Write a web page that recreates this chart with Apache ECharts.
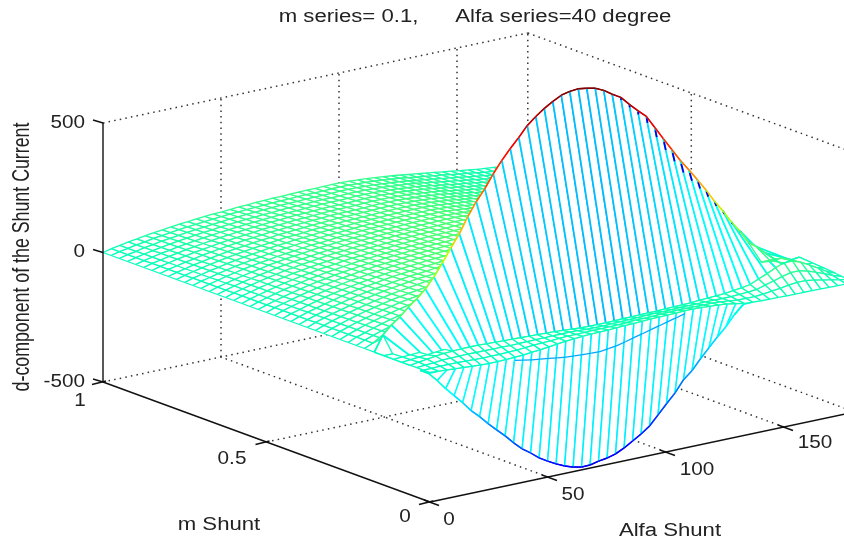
<!DOCTYPE html>
<html><head><meta charset="utf-8">
<style>html,body{margin:0;padding:0;background:#fff}#c{width:844px;height:541px}</style>
<script src="https://cdn.jsdelivr.net/npm/echarts@6/dist/echarts.min.js"></script>
</head><body><div id="c"></div>
<script>
const titleText = 'm series= 0.1,      Alfa series=40 degree';
const zTicks = [-500, 0, 500];
const mTicks = [0, 0.5, 1];
const alphaTicks = [0, 50, 100, 150];
const alphaStep = 3.6;

// Green sheet: one row per m, values from alpha = 0 upward; the part hidden by the wall is left out
const sheetM = [1,.975,.95,.925,.9,.875,.85,.825,.8,.775,.75,.725,.7,.675,.65,.625,.6,.575,.55,.525,.5,.475,.45,.425,.4,.375,.35,.325,.3,.275,.25,.225,.2];
const sheetZ = [
[0,8,14,20,25,30,35,39,43,47,50,53,56,59,60,62,65,66,68,69,71,71,72,73,74,74,75,75,75,74,72,70,67,64,60,56,51,47,42,38,33,29,24,20,15,12,9,6,4,2,0],
[0,8,14,20,25,31,35,40,44,48,51,54,57,60,62,64,66,68,69,71,72,73,74,75,75,76,77,77,77,75,74,72,69,65,62,57,52,48,43,39,34,29,25,20,15,12,9,6,4],
[0,8,14,21,26,32,36,41,45,49,52,55,58,62,63,66,68,70,71,73,74,75,76,77,77,78,79,79,79,77,76,73,70,67,63,58,54,49,44,40,35,30,25,21,16,13,9,6],
[0,8,15,21,27,32,37,42,46,50,53,57,60,63,65,67,70,71,73,75,76,77,78,79,79,80,81,81,81,79,78,75,72,69,65,60,55,50,45,41,36,31,26,21,16,13],
[0,8,15,22,27,33,38,43,47,51,55,58,61,65,66,69,71,73,75,76,78,79,80,81,81,82,83,83,83,81,80,77,74,71,66,61,56,51,46,42,37,32,27,22,17],
[0,9,15,22,28,34,39,44,48,53,56,60,63,66,68,71,73,75,77,78,80,81,82,82,83,84,85,85,85,83,82,79,76,72,68,63,58,53,48,43,37,32,27],
[0,9,16,23,29,35,40,45,50,54,57,61,64,68,70,72,75,77,78,80,82,83,84,84,85,86,87,87,87,85,84,81,77,74,70,64,59,54,49,44,38,33],
[0,9,16,23,29,36,41,46,51,55,59,62,66,69,71,74,77,78,80,82,84,85,85,86,87,88,89,89,89,87,85,83,79,76,71,66,61,55,50,45],
[0,9,16,24,30,36,42,47,52,56,60,64,67,71,73,76,78,80,82,84,86,86,87,88,89,90,91,91,91,89,87,85,81,77,73,67,62,56,51],
[0,9,17,24,31,37,43,48,53,58,61,65,69,73,74,77,80,82,84,86,87,88,89,90,91,92,93,93,93,91,89,86,83,79,74,69,63,58],
[0,10,17,25,31,38,44,49,54,59,63,67,70,74,76,79,82,84,86,87,89,90,91,92,93,94,95,95,95,93,91,88,85,81,76,70],
[0,10,17,25,32,39,45,50,55,60,64,68,72,76,78,81,83,85,87,89,91,92,93,94,95,96,97,97,97,95,93,90,86,82,78],
[0,10,18,26,33,40,46,51,56,61,65,69,73,77,79,82,85,87,89,91,93,94,95,96,97,98,99,99,99,97,95,92,88,84,79,73],
[0,10,18,26,33,40,46,53,58,63,67,71,75,79,81,84,87,89,91,93,95,96,97,98,99,100,101,101,101,99,97,94,90,86,81],
[0,10,19,27,34,41,47,54,59,64,68,72,76,80,82,85,89,91,93,95,97,98,99,100,101,102,103,103,103,101,99,96,92],
[0,11,19,27,35,42,48,55,60,65,69,74,78,82,84,87,90,92,95,97,99,100,101,102,103,104,105,105,105,103,101,98,93],
[0,11,19,28,35,43,49,56,61,66,71,75,79,83,86,89,92,94,96,98,101,102,103,104,105,106,107,107,107,105,103,100],
[0,11,20,28,36,44,50,57,62,68,72,76,81,85,87,90,94,96,98,100,102,104,105,106,107,108,109,109,109,107],
[0,11,20,29,37,44,51,58,63,69,73,78,82,87,89,92,95,98,100,102,104,105,107,108,109,110,111,111,111],
[0,11,20,29,37,45,52,59,64,70,75,79,84,88,90,94,97,99,102,104,106,107,108,110,111,112,113],
[0,12,21,30,38,46,53,60,66,71,76,81,85,90,92,95,99,101,104,106,108,109,110,112,113,114],
[0,12,21,30,39,47,54,61,67,73,77,82,87,91,94,97,101,103,105,108,110,111,112,113,115],
[0,12,21,31,39,48,55,62,68,74,79,83,88,93,95,99,102,105,107,109,112,113,114,115],
[0,12,22,31,40,48,56,63,69,75,80,85,90,94,97,100,104,106,109,111,114,115],
[0,12,22,32,41,49,57,64,70,76,81,86,91,96,98,102,106,108,111,113,116],
[0,13,23,33,41,50,58,65,71,78,83,88,93,98,100,104,108,110,113],
[0,13,23,33,42,51,58,66,72,79,84,89,94,99,102,105,109,112],
[0,13,23,34,43,52,59,67,74,80,85,90,95,101,103,107],
[0,13,24,34,43,52,60,68,75,81,86,92,97,102],
[0,13,24,35,44,53,61,69,76,82,88,93,98],
[0,14,24,35,45,54,62,70,77,84,89],
[0,14,25,36,45,55,63,71,78],
[0,14,25,36,46,56,64]];

const peakM = 0.17;
const peakZ = [0,59,91,115,146,171,202,242,289,340,388,447,498,541,592,636,675,711,750,778,802,822,839,847,850,845,838,823,801,782,748,717,688,638,588,539,490,447,402,356,306,261,211,169,119,93,63,33,6,15,19];
const troughM = 0.03;
const troughZ = [-6,-25,-59,-97,-131,-165,-203,-233,-267,-298,-328,-362,-392,-415,-441,-460,-478,-493,-504,-511,-510,-502,-497,-488,-472,-452,-432,-408,-372,-336,-301,-257,-229,-190,-154,-119,-87,-47,-16];

const bandM = [0.06, 0.04, 0.02, 0];
const bandZ0 = [0,5,10,15,18,20,22,22,22,20,20,18,18,16,15,14,13,12,10,8,5,4,4,4,5,6,6,7,8,8,9,10,11,12,14,16,18,20,24,28,34,48,62,78,90,90,78,60,42,22,8];
const bandZ1 = [0,3,5,8,9,10,11,10,10,9,10,9,10,10,11,11,12,12,12,11,9,9,9,10,11,12,13,14,15,15,16,17,17,17,18,18,17,17,19,21,24,34,43,53,61,61,53,41,29,15,5];
const bandZ2 = [0,0,1,1,1,0,-1,-2,-2,-2,0,1,3,6,8,9,11,13,13,14,14,14,15,16,17,19,19,20,22,22,23,23,23,22,22,20,17,13,13,13,15,20,24,29,33,33,28,21,15,8,3];
const bandZ3 = [0,-2,-4,-6,-8,-10,-12,-13,-13,-12,-10,-8,-5,-2,2,6,10,13,15,17,18,19,20,22,23,25,26,27,28,29,30,30,29,27,25,22,16,10,8,6,5,5,4,4,4,3,3,2,2,1,0];

// Colour value of the long mesh lines of the upper and lower wall, per alpha column
const upperShade = [-40,-50,-60,-70,-80,-90,-100,-105,-110,-120,-125,-130,-140,-150,-160,-165,-170,-175,-180,-185,-190,-195,-200,-200,-200,-200,-195,-190,-185,-175,-170,-160,-150,-140,-130,-120,-110,-100,-95,-90,-80,-70,-60,-50,-40,-30,-20,-10,0,0,0];
const lowerShade = [-70,-80,-85,-90,-95,-100,-100,-105,-105,-110,-110,-110,-115,-115,-115,-120,-120,-120,-120,-120,-120,-120,-120,-120,-120,-120,-115,-115,-115,-110,-110,-110,-105,-105,-100,-100,-95,-90,-80];
// Dark-blue stretch at the head of the upper-wall lines (fraction of the line), from column 29
const darkHead = [.012,.015,.02,.035,.055,.07,.08,.09,.09,.08,.07,.06,.05,.04,.03,.02];

// Small extra rows: left end of the band, and right corner
const leftM = [0.14, 0.11, 0.085];
const leftZ = [[0,0],[0,2,4,6],[0,3,6,9,12,15]];
const cornerM = [0.13, 0.095];
const cornerZ = [[60,60,50,40,25,15,15],[80,85,72,55,35,18,12]];
const cornerStart = 44;

// Thin curve below the band
const arcStart = 10;
const arcZ = [-23,-29,-35,-39,-43,-48,-52,-54,-56,-57,-58,-54,-49,-41,-32,-24,-15,-7,2,10,19];
const arcShade = -230;

const OX=430, OY=502, AX=2.36, AY=0.5, MX=327, MY=120, ZS=0.259;
const proj=(a,m,z)=>[OX+AX*a-MX*m, OY-AY*a-MY*m-ZS*(z+500)];
const clamp=v=>Math.max(0,Math.min(1,v));
function jet(z){
  const t=clamp((z+667)/1517);
  const r=clamp(Math.min(4*t-1.75,-4*t+4.5)),g=clamp(Math.min(4*t-.5,-4*t+3.5)),b=clamp(Math.min(4*t+.5,-4*t+2.5));
  return 'rgb('+Math.round(r*255)+','+Math.round(g*255)+','+Math.round(b*255)+')';
}
const cells=[];
function addCells(mA,zA,startA,mB,zB,startB,shade,lw,rowLw){
  const from=Math.max(startA,startB), to=Math.min(startA+zA.length,startB+zB.length)-1;
  for(let j=from;j<to;j++){
    const a=j*alphaStep,a2=(j+1)*alphaStep;
    const za=zA[j-startA],za2=zA[j+1-startA],zb=zB[j-startB],zb2=zB[j+1-startB];
    cells.push({
      p:[proj(a,mA,za),proj(a2,mA,za2),proj(a2,mB,zb2),proj(a,mB,zb)],
      cA:jet(za),cB:jet(zb),
      c1:jet(shade?shade[j]:zb),c2:jet(shade?shade[j+1]:zb2),lw:lw||1.3,rowLw:rowLw||1.3
    });
  }
}
for(let i=0;i<sheetM.length-1;i++) addCells(sheetM[i],sheetZ[i],0,sheetM[i+1],sheetZ[i+1],0);
addCells(sheetM[sheetM.length-1],sheetZ[sheetM.length-1],0,peakM,peakZ,0);
addCells(peakM,peakZ,0,bandM[0],bandZ0,0,upperShade,1.7);
addCells(peakM,peakZ,0,leftM[0],leftZ[0],0);
addCells(leftM[0],leftZ[0],0,leftM[1],leftZ[1],0);
addCells(leftM[1],leftZ[1],0,leftM[2],leftZ[2],0);
addCells(leftM[2],leftZ[2],0,bandM[0],bandZ0,0);
addCells(peakM,peakZ,0,cornerM[0],cornerZ[0],cornerStart);
addCells(cornerM[0],cornerZ[0],cornerStart,cornerM[1],cornerZ[1],cornerStart);
addCells(cornerM[1],cornerZ[1],cornerStart,bandM[0],bandZ0,0);
addCells(troughM,troughZ,0,bandM[3],bandZ3,0,lowerShade,1.5);
const bandRows=[bandZ0,bandZ1,bandZ2,bandZ3];
for(let i=0;i<3;i++) addCells(bandM[i],bandRows[i],0,bandM[i+1],bandRows[i+1],0);

const overlays=[];
darkHead.forEach((f,k)=>{
  const j=29+k,a=j*alphaStep;
  const A=proj(a,peakM,peakZ[j]),B=proj(a,bandM[0],bandZ0[j]);
  overlays.push({pts:[[A[0]+(B[0]-A[0])*f*.3,A[1]+(B[1]-A[1])*f*.3],[A[0]+(B[0]-A[0])*f,A[1]+(B[1]-A[1])*f]],c:'rgb(0,0,230)',lw:1.8});
});
for(let j=0;j<peakZ.length-1;j++) overlays.push({pts:[proj(j*alphaStep,peakM,peakZ[j]),proj((j+1)*alphaStep,peakM,peakZ[j+1])],c:jet(peakZ[j]),lw:1.4});
for(let j=0;j<troughZ.length-1;j++) overlays.push({pts:[proj(j*alphaStep,troughM,troughZ[j]),proj((j+1)*alphaStep,troughM,troughZ[j+1])],c:jet(troughZ[j]),lw:1.4});
for(let k=0;k<arcZ.length-1;k++){
  const j=arcStart+k;
  overlays.push({pts:[proj(j*alphaStep,0,arcZ[k]),proj((j+1)*alphaStep,0,arcZ[k+1])],c:jet(arcShade),lw:1.3});
}

const lineSeries=(pts,style)=>({type:'line',data:pts,showSymbol:false,silent:true,animation:false,z:style.z,lineStyle:style.ls,clip:false});
const solid={z:5,ls:{color:'#111',width:1.4}};
const dotted={z:1,ls:{color:'#333',width:1.5,type:[1.5,4.2]}};
const AMAX=180,ZMIN=-500,ZMAX=500;
const series=[];
// box
series.push(lineSeries([proj(0,1,ZMIN),proj(0,1,ZMAX)],solid));
series.push(lineSeries([proj(0,1,ZMIN),proj(0,0,ZMIN)],solid));
series.push(lineSeries([proj(0,0,ZMIN),proj(AMAX,0,ZMIN)],solid));
[[proj(0,1,ZMAX),proj(AMAX,1,ZMAX)],[proj(AMAX,1,ZMAX),proj(AMAX,0,ZMAX)],
 [proj(0,1,ZMIN),proj(AMAX,1,ZMIN)],[proj(AMAX,1,ZMIN),proj(AMAX,0,ZMIN)],
 [proj(AMAX,1,ZMIN),proj(AMAX,1,ZMAX)],[proj(AMAX,.5,ZMIN),proj(AMAX,.5,ZMAX)],
 [proj(0,.5,ZMIN),proj(AMAX,.5,ZMIN)]].forEach(p=>series.push(lineSeries(p,dotted)));
alphaTicks.slice(1).forEach(a=>{
  series.push(lineSeries([proj(a,1,ZMIN),proj(a,1,ZMAX)],dotted));
  series.push(lineSeries([proj(a,0,ZMIN),proj(a,1,ZMIN)],dotted));
});
const sh=(p,dx,dy)=>[p[0]+dx,p[1]+dy];
zTicks.forEach(z=>{const p=proj(0,1,z);series.push(lineSeries([sh(p,-10,-3),p],solid));});
mTicks.forEach(m=>{const p=proj(0,m,ZMIN);series.push(lineSeries([sh(p,-11,2.5),sh(p,3,-1)],solid));});
alphaTicks.forEach(a=>{const p=proj(a,0,ZMIN);series.push(lineSeries([sh(p,-6,-2),sh(p,9,3.5)],solid));});

series.push({
  type:'custom',coordinateSystem:'cartesian2d',silent:true,animation:false,z:3,clip:false,progressive:0,
  encode:{x:0,y:1},
  data:cells.map(c=>[c.p[0][0],c.p[0][1]]),
  renderItem(params,api){
    const c=cells[params.dataIndex];
    const q=c.p.map(v=>api.coord(v));
    const ln=(a,b,col,w)=>({type:'line',shape:{x1:a[0],y1:a[1],x2:b[0],y2:b[1]},style:{stroke:col,lineWidth:w,fill:null}});
    return {type:'group',children:[
      {type:'polygon',shape:{points:q},style:{fill:'#fff',stroke:null}},
      ln(q[0],q[1],c.cA,c.rowLw),ln(q[3],q[2],c.cB,c.rowLw),ln(q[0],q[3],c.c1,c.lw),ln(q[1],q[2],c.c2,c.lw)
    ]};
  }
});
series.push({
  type:'custom',coordinateSystem:'cartesian2d',silent:true,animation:false,z:4,clip:false,progressive:0,
  encode:{x:0,y:1},
  data:overlays.map(o=>o.pts[0]),
  renderItem(params,api){
    const o=overlays[params.dataIndex];
    const a=api.coord(o.pts[0]),b=api.coord(o.pts[1]);
    return {type:'line',shape:{x1:a[0],y1:a[1],x2:b[0],y2:b[1]},style:{stroke:o.c,lineWidth:o.lw,fill:null}};
  }
});

const font='"Liberation Sans",Arial,sans-serif';
const txt=(text,x,y,align,size,rot,sx,sy)=>({type:'text',x,y,rotation:rot||0,scaleX:sx||1,scaleY:sy||1,z:10,silent:true,
  style:{text,fill:'#222',font:(size||18)+'px '+font,textAlign:align||'center',textVerticalAlign:'middle'}});
const texts=[
  txt(titleText,475,17,'center',18,0,1.23),
  txt('m Shunt',219,525,'center',18,0,1.23),
  txt('Alfa Shunt',670,531,'center',18,0,1.23),
  txt('d-component of the Shunt Current',23,257,'center',17.8,Math.PI/2,1,1.3)
];
zTicks.forEach(z=>texts.push(txt(String(z),85,proj(0,1,z)[1],'right',18,0,1.15)));
const mPos=[[405,517],[232,459],[80,401]];
mTicks.forEach((m,i)=>texts.push(txt(String(m),mPos[i][0],mPos[i][1],'center',18,0,1.15)));
const aPos=[[449,520],[573,495],[697,470],[815,443]];
alphaTicks.forEach((a,i)=>texts.push(txt(String(a),aPos[i][0],aPos[i][1],'center',18,0,1.15)));

const chart=echarts.init(document.getElementById('c'),null,{renderer:'canvas'});
chart.setOption({
  animation:false,backgroundColor:'#fff',
  grid:{left:0,right:0,top:0,bottom:0},
  xAxis:{type:'value',min:0,max:844,show:false},
  yAxis:{type:'value',min:0,max:541,inverse:true,show:false},
  tooltip:{show:false},
  series,
  graphic:{elements:texts}
});
</script></body></html>
